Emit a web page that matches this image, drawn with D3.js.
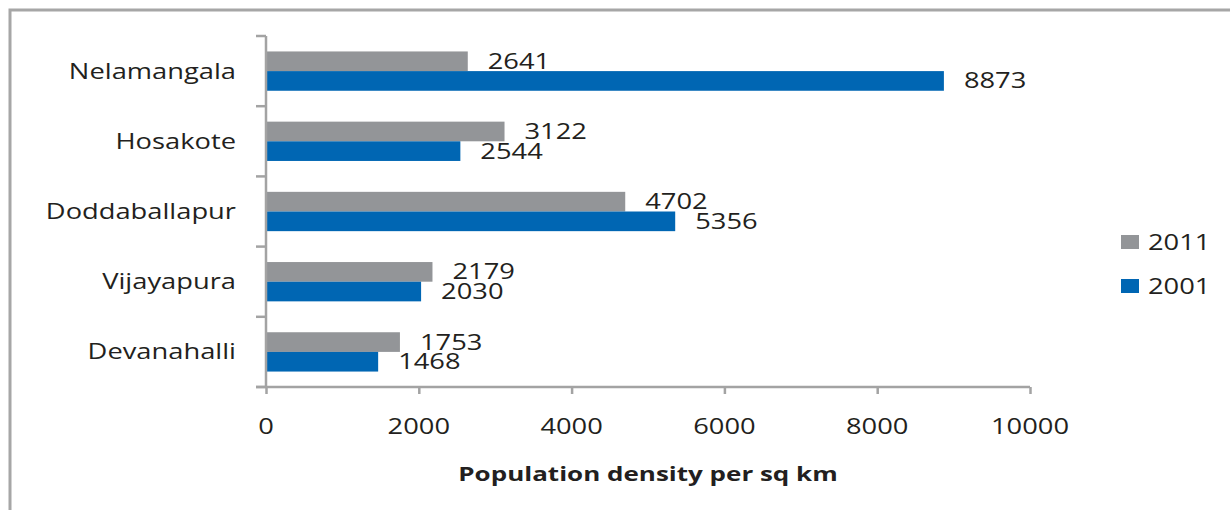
<!DOCTYPE html>
<html>
<head>
<meta charset="utf-8">
<script src="https://cdn.jsdelivr.net/npm/d3@7"></script>
<style>
  html, body { margin: 0; padding: 0; background: #fff; }
  svg { display: block; }
  text { font-family: "Open Sans", sans-serif; fill: #231f20; }
</style>
</head>
<body>
<div id="chart"></div>
<script>
// Population density per sq km, by town, for the two census years
const towns = ["Nelamangala", "Hosakote", "Doddaballapur", "Vijayapura", "Devanahalli"];
const years = ["2011", "2001"];
const density2011 = [2641, 3122, 4702, 2179, 1753];
const density2001 = [8873, 2544, 5356, 2030, 1468];
const xTicks = [0, 2000, 4000, 6000, 8000, 10000];
const xTitle = "Population density per sq km";

const W = 1230, H = 510;
const colors = { "2011": "#939598", "2001": "#0066b3" };
const axisColor = "#a3a3a3";
const SX = 1.3;          // horizontal stretch applied to all lettering
const FS = 21;

const svg = d3.select("#chart").append("svg")
  .attr("width", W).attr("height", H);

// frame around the chart area
svg.append("rect")
  .attr("x", 10).attr("y", 10)
  .attr("width", W + 20).attr("height", H + 20)
  .attr("fill", "none").attr("stroke", "#a6a6a6").attr("stroke-width", 3);

const x = d3.scaleLinear().domain([0, 10000]).range([266, 1030]);
const y = d3.scaleBand().domain(towns).range([36, 387])
  .paddingInner(0.44).paddingOuter(0.22);
const ySub = d3.scaleBand().domain(years).range([0, y.bandwidth()]);

const rows = towns.map((t, i) => ({
  town: t,
  values: [
    { year: "2011", value: density2011[i] },
    { year: "2001", value: density2001[i] }
  ]
}));

function stretchedText(sel, tx, ty) {
  return sel.attr("transform", (d, i) => {
    const px = typeof tx === "function" ? tx(d, i) : tx;
    const py = typeof ty === "function" ? ty(d, i) : ty;
    return `translate(${px},${py}) scale(${SX},1)`;
  });
}

// bars
const g = svg.append("g");
const rowG = g.selectAll("g.row").data(rows).join("g")
  .attr("class", "row")
  .attr("transform", d => `translate(0,${y(d.town)})`);

rowG.selectAll("rect").data(d => d.values).join("rect")
  .attr("x", x(0))
  .attr("y", d => ySub(d.year))
  .attr("width", d => x(d.value) - x(0))
  .attr("height", ySub.bandwidth())
  .attr("fill", d => colors[d.year]);

// value labels at the end of each bar
stretchedText(
  rowG.selectAll("text.val").data(d => d.values).join("text")
    .attr("class", "val")
    .attr("font-size", FS)
    .attr("dy", "0.36em")
    .text(d => d.value),
  d => x(d.value) + 20,
  d => ySub(d.year) + ySub.bandwidth() / 2
);

// category axis: line plus ticks at band boundaries
const step = y.step();
const y0 = y.range()[0], y1 = y.range()[1];
svg.append("line")
  .attr("x1", x(0)).attr("x2", x(0))
  .attr("y1", y0).attr("y2", y1)
  .attr("stroke", axisColor).attr("stroke-width", 2.5);
const bounds = d3.range(towns.length + 1).map(i => y0 + i * step);
svg.selectAll("line.ytick").data(bounds).join("line")
  .attr("class", "ytick")
  .attr("x1", x(0) - 10).attr("x2", x(0))
  .attr("y1", d => d).attr("y2", d => d)
  .attr("stroke", axisColor).attr("stroke-width", 2.5);

stretchedText(
  svg.selectAll("text.cat").data(towns).join("text")
    .attr("class", "cat")
    .attr("font-size", FS)
    .attr("text-anchor", "end")
    .attr("dy", "0.36em")
    .text(d => d),
  236,
  d => y(d) + y.bandwidth() / 2
);

// value axis
const xAxis = svg.append("g")
  .attr("transform", `translate(0,${y1})`)
  .call(d3.axisBottom(x).tickValues(xTicks).tickSize(7).tickSizeOuter(0).tickFormat(""));
xAxis.select(".domain").remove();
xAxis.selectAll(".tick line").attr("stroke", axisColor).attr("stroke-width", 2.5);
svg.append("line")
  .attr("x1", x(0) - 10).attr("x2", x(10000))
  .attr("y1", y1).attr("y2", y1)
  .attr("stroke", axisColor).attr("stroke-width", 2.5);

stretchedText(
  svg.selectAll("text.xt").data(xTicks).join("text")
    .attr("class", "xt")
    .attr("font-size", FS)
    .attr("text-anchor", "middle")
    .attr("dy", "0.36em")
    .text(d => d),
  d => x(d),
  426
);

stretchedText(
  svg.append("text")
    .attr("font-size", 20)
    .attr("font-weight", "bold")
    .attr("text-anchor", "middle")
    .text(xTitle),
  648, 481
);

// legend
const legend = svg.append("g");
const legY = [242, 286];
legend.selectAll("rect").data(years).join("rect")
  .attr("x", 1121)
  .attr("y", (d, i) => legY[i] - 7)
  .attr("width", 18).attr("height", 14)
  .attr("fill", d => colors[d]);
stretchedText(
  legend.selectAll("text").data(years).join("text")
    .attr("font-size", FS)
    .attr("dy", "0.36em")
    .text(d => d),
  1148,
  (d, i) => legY[i]
);
</script>
</body>
</html>
